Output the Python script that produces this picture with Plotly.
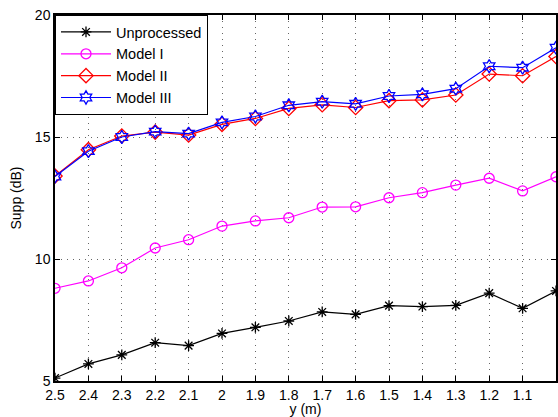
import plotly.graph_objects as go

y_pos = [2.5, 2.4, 2.3, 2.2, 2.1, 2.0, 1.9, 1.8, 1.7, 1.6, 1.5, 1.4, 1.3, 1.2, 1.1, 1.0]
unprocessed = [5.12, 5.7, 6.07, 6.57, 6.45, 6.95, 7.2, 7.46, 7.83, 7.73, 8.09, 8.05, 8.1, 8.6, 7.98, 8.69]
model_1 = [8.8, 9.1, 9.64, 10.45, 10.79, 11.35, 11.56, 11.69, 12.13, 12.14, 12.51, 12.72, 13.03, 13.31, 12.79, 13.37]
model_2 = [13.4, 14.48, 15.04, 15.2, 15.08, 15.52, 15.76, 16.17, 16.32, 16.21, 16.49, 16.52, 16.72, 17.58, 17.51, 18.3]
model_3 = [13.38, 14.42, 15.0, 15.22, 15.14, 15.6, 15.84, 16.3, 16.45, 16.36, 16.68, 16.75, 16.98, 17.9, 17.84, 18.66]

x_ticks = [2.5, 2.4, 2.3, 2.2, 2.1, 2.0, 1.9, 1.8, 1.7, 1.6, 1.5, 1.4, 1.3, 1.2, 1.1, 1.0]
x_ticklabels = ["2.5", "2.4", "2.3", "2.2", "2.1", "2", "1.9", "1.8", "1.7", "1.6", "1.5", "1.4", "1.3", "1.2", "1.1", "1"]
y_ticks = [5, 10, 15, 20]

series = [
    ("Unprocessed", unprocessed, "black", "asterisk-open", 9),
    ("Model I", model_1, "#ff00ff", "circle-open", 10),
    ("Model II", model_2, "#ff0000", "diamond-open", 11),
    ("Model III", model_3, "#0000ff", "hexagram-open", 10),
]

fig = go.Figure()
for name, vals, color, sym, size in series:
    fig.add_trace(go.Scatter(
        x=y_pos, y=vals, name=name, mode="lines+markers",
        line=dict(color=color, width=1.2),
        marker=dict(symbol=sym, size=size, color=color, line=dict(color=color, width=1.3)),
    ))

axis_common = dict(
    showline=True, linecolor="black", linewidth=1.5, mirror="ticks",
    ticks="inside", ticklen=5, tickcolor="black",
    showgrid=True, gridcolor="#666", griddash="1px,5px", gridwidth=1,
    zeroline=False, tickfont=dict(size=14, color="black"),
)

fig.update_layout(
    width=558, height=417,
    margin=dict(l=55, r=0, t=15, b=36),
    paper_bgcolor="white", plot_bgcolor="white",
    font=dict(family="Liberation Sans, Arial, sans-serif", size=14, color="black"),
    showlegend=True,
    legend=dict(x=0, y=1, xanchor="left", yanchor="top",
                bgcolor="white", bordercolor="black", borderwidth=1,
                font=dict(size=14.5), tracegroupgap=0, itemwidth=50),
    xaxis=dict(range=[2.5, 1.0], tickvals=x_ticks, ticktext=x_ticklabels,
               title=dict(text="y (m)", standoff=0, font=dict(size=14)), **axis_common),
    yaxis=dict(range=[5, 20], tickvals=y_ticks,
               title=dict(text="Supp (dB)", standoff=10, font=dict(size=14)), **axis_common),
)

fig.write_html("out.html")
